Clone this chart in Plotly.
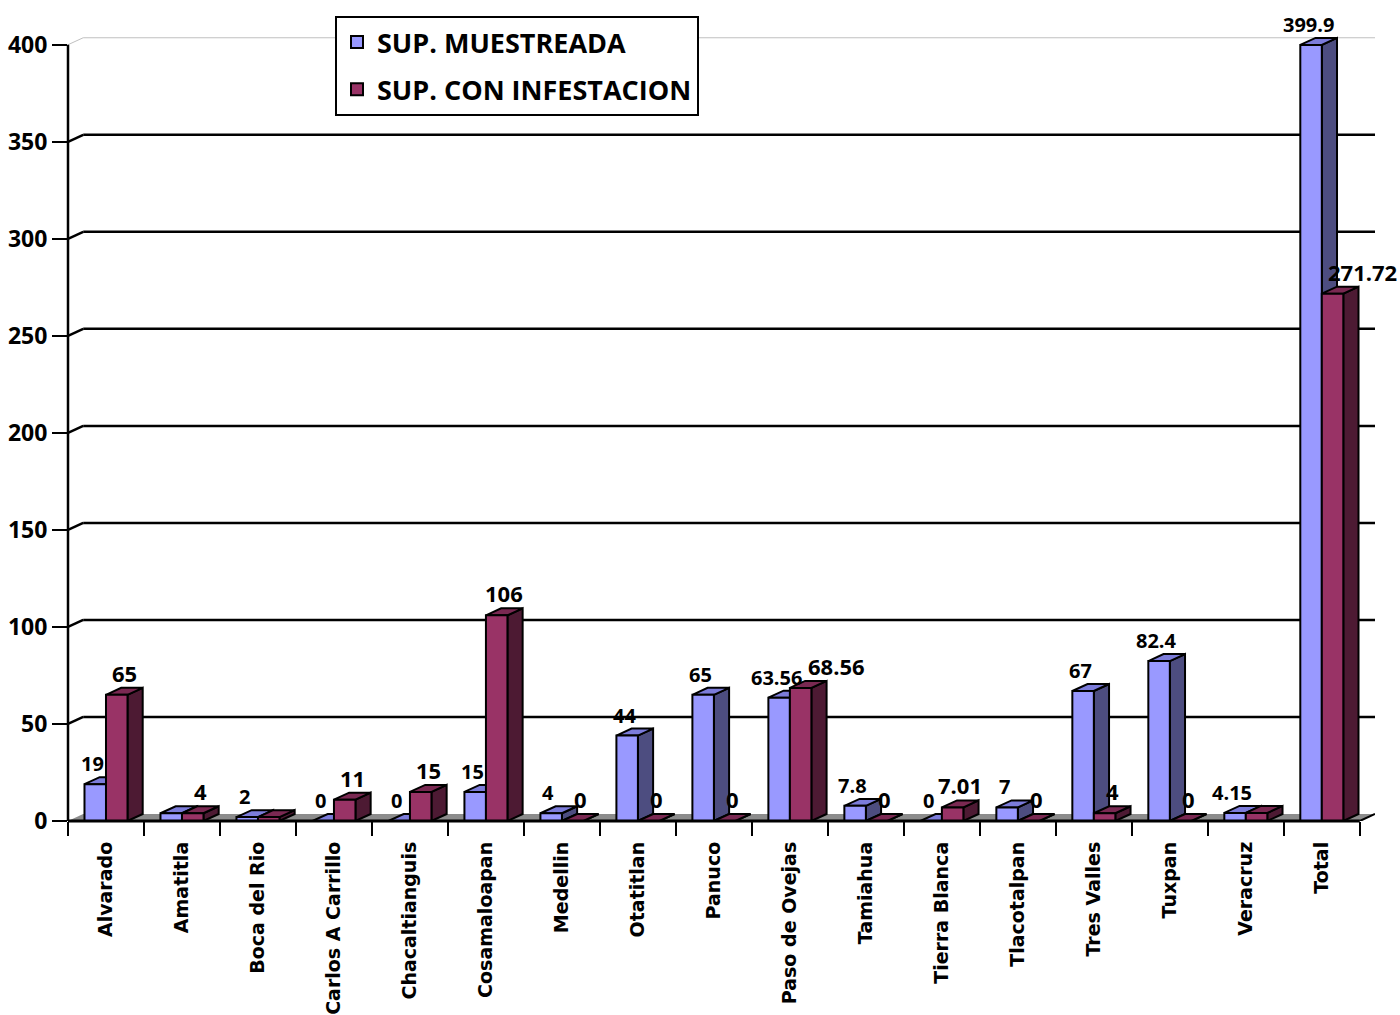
import plotly.graph_objects as go

# ---------------- data ----------------
categories = ["Alvarado", "Amatitla", "Boca del Rio", "Carlos A Carrillo", "Chacaltianguis",
              "Cosamaloapan", "Medellin", "Otatitlan", "Panuco", "Paso de Ovejas", "Tamiahua",
              "Tierra Blanca", "Tlacotalpan", "Tres Valles", "Tuxpan", "Veracruz", "Total"]
sup_muestreada = [19, 4, 2, 0, 0, 15, 4, 44, 65, 63.56, 7.8, 0, 7, 67, 82.4, 4.15, 399.9]
sup_infestacion = [65, 4, 2, 11, 15, 106, 0, 0, 0, 68.56, 0, 7.01, 0, 4, 0, 4.15, 271.72]
series_names = ["SUP. MUESTREADA", "SUP. CON INFESTACION"]
y_ticks = [0, 50, 100, 150, 200, 250, 300, 350, 400]
hidden_labels_muestreada = ["Amatitla"]
hidden_labels_infestacion = ["Boca del Rio", "Veracruz"]

# ---------------- style ----------------
FRONT = ["#9999FF", "#993366"]
SIDE = ["#4D4D80", "#4D1A33"]
TOP = ["#7C7CDA", "#7A2952"]
LABEL_SIZE = [20, 22]
LABEL_DX = [-0.04, 0.1]       # label offset from front-face centre, category units
LABEL_XSHIFT = {(1, "Paso de Ovejas"): 28, (1, "Total"): 22}
BARGAP = 0.434
W = (1 - BARGAP) / 2          # width of one bar in category units
DX = 0.2                      # 3-D depth, category units
DY = 3.6                      # 3-D depth, value units
Y_MAX = 404.5
N = len(categories)

fig = go.Figure()
series = [sup_muestreada, sup_infestacion]
for j, vals in enumerate(series):
    fig.add_trace(go.Bar(
        x=list(range(N)), y=vals, name=series_names[j],
        marker=dict(color=FRONT[j], line=dict(color="black", width=2)),
        legendgroup=str(j), hoverinfo="x+y",
    ))

shapes = []
# floor
shapes.append(dict(type="path", xref="x", yref="y", layer="below",
                   path=f"M{-0.5},0 L{N - 0.5},0 L{N - 0.5 + DX},{DY} L{-0.5 + DX},{DY} Z",
                   fillcolor="#8C8C8C", line=dict(width=0)))
# back-wall gridlines
for v in y_ticks[1:]:
    last = v == y_ticks[-1]
    col = "#C0C0C0" if last else "black"
    wd = 1 if last else 2.5
    shapes.append(dict(type="line", xref="x", yref="y", layer="below",
                       x0=-0.5, y0=v, x1=-0.5 + DX, y1=v + DY, line=dict(color=col, width=wd)))
    shapes.append(dict(type="line", xref="x", yref="y", layer="below",
                       x0=-0.5 + DX, y0=v + DY, x1=N - 0.5 + DX, y1=v + DY,
                       line=dict(color=col, width=wd)))
# 3-D faces of bars
for i in range(N):
    for j, vals in enumerate(series):
        v = vals[i]
        x0 = i - W + j * W
        x1 = x0 + W
        shapes.append(dict(type="path", xref="x", yref="y", layer="below",
                           path=f"M{x1},0 L{x1 + DX},{DY} L{x1 + DX},{v + DY} L{x1},{v} Z",
                           fillcolor=SIDE[j], line=dict(color="black", width=2)))
        shapes.append(dict(type="path", xref="x", yref="y", layer="below",
                           path=f"M{x0},{v} L{x0 + DX},{v + DY} L{x1 + DX},{v + DY} L{x1},{v} Z",
                           fillcolor=TOP[j], line=dict(color="black", width=2)))
# axis lines
shapes.append(dict(type="line", xref="paper", yref="y", x0=0, x1=0, y0=0, y1=y_ticks[-1],
                   line=dict(color="black", width=2.5)))
shapes.append(dict(type="line", xref="x", yref="paper", x0=-0.5, x1=N - 0.5, y0=0, y1=0,
                   line=dict(color="black", width=3)))
shapes.append(dict(type="line", xref="x", yref="y", x0=N - 0.5, x1=N - 0.5 + DX, y0=0, y1=DY,
                   line=dict(color="black", width=2)))

# data labels
annotations = []
hidden = [hidden_labels_muestreada, hidden_labels_infestacion]
for j, vals in enumerate(series):
    for i, v in enumerate(vals):
        if categories[i] in hidden[j]:
            continue
        x0 = i - W + j * W
        annotations.append(dict(
            x=x0 + W / 2 + LABEL_DX[j], y=v + DY, xref="x", yref="y",
            text=f"{v:g}", showarrow=False, yanchor="bottom", yshift=-2,
            xshift=LABEL_XSHIFT.get((j, categories[i]), 0),
            font=dict(family="Open Sans", size=LABEL_SIZE[j], color="black", weight="bold"),
        ))

fig.update_layout(
    width=1400, height=1015,
    margin=dict(l=68, r=25, t=36, b=194, autoexpand=False),
    paper_bgcolor="white", plot_bgcolor="white",
    barmode="group", bargap=BARGAP, bargroupgap=0,
    shapes=shapes, annotations=annotations,
    showlegend=True,
    legend=dict(x=(335 - 68) / 1307, y=1.0255, xanchor="left", yanchor="top",
                bordercolor="black", borderwidth=2, bgcolor="white",
                traceorder="grouped", tracegroupgap=9,
                font=dict(family="Open Sans", size=27, color="black", weight="bold")),
    xaxis=dict(range=[-0.5, N - 0.5 + DX], tickmode="array", automargin=False,
               tickvals=list(range(N)), ticktext=categories, tickangle=-90,
               ticks="", showgrid=False, zeroline=False, showline=False,
               ticklabelstandoff=16,
               minor=dict(tickmode="array", tickvals=[k - 0.5 for k in range(N + 1)],
                          ticks="outside", ticklen=14, tickwidth=2, tickcolor="black",
                          showgrid=False),
               tickfont=dict(family="DejaVu Sans", size=19, color="black", weight="bold")),
    yaxis=dict(range=[0, Y_MAX], tickmode="array", tickvals=y_ticks, automargin=False,
               ticks="outside", ticklen=15, tickwidth=2, tickcolor="black",
               showgrid=False, zeroline=False, showline=False,
               tickfont=dict(family="Open Sans", size=23, color="black", weight="bold")),
)

fig.write_html("out.html", config={"displayModeBar": False},
               post_script="document.body.style.margin='0';")
